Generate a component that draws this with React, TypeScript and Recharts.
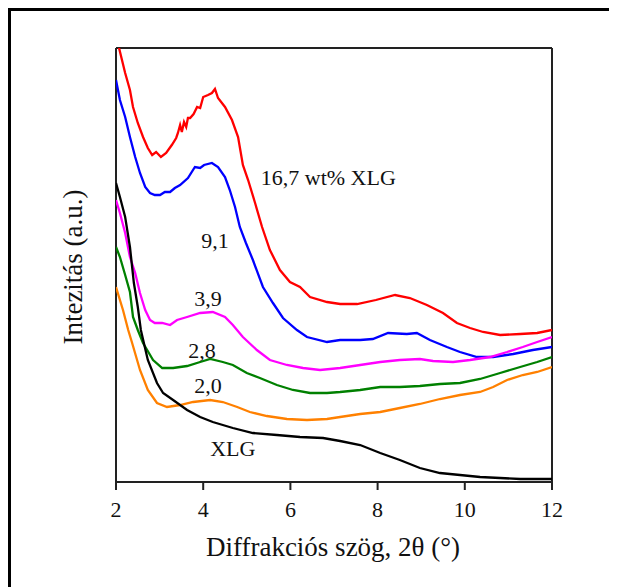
import React from "react";
import {
  LineChart,
  Line,
  XAxis,
  YAxis,
  ReferenceDot,
  ReferenceLine,
} from "recharts";

// 2θ (°) / intenzitás (a.u.) pontok
const red = [
  [2.0, 452], [2.07, 434], [2.21, 409], [2.32, 392], [2.39, 375], [2.5, 359],
  [2.62, 345], [2.73, 334], [2.83, 327], [2.92, 330], [3.03, 325], [3.15, 329],
  [3.28, 337], [3.38, 344], [3.42, 349], [3.47, 357], [3.51, 350], [3.56, 360],
  [3.61, 355], [3.65, 364], [3.7, 364], [3.78, 368], [3.86, 375], [3.93, 374],
  [4.0, 385], [4.11, 387], [4.2, 389], [4.27, 393], [4.34, 384],
  [4.5, 375], [4.66, 362], [4.8, 345], [4.91, 317], [5.03, 302], [5.19, 279],
  [5.35, 255], [5.53, 232], [5.76, 212], [5.99, 200], [6.22, 195], [6.45, 185],
  [6.84, 180], [7.14, 178], [7.53, 178], [7.96, 182], [8.4, 187], [8.74, 184],
  [9.13, 177], [9.5, 169], [9.82, 159], [10.12, 154], [10.42, 150], [10.81, 147],
  [11.27, 148], [11.66, 149], [12.0, 152],
];
const blue = [
  [2.0, 402], [2.09, 382], [2.21, 365], [2.32, 345], [2.44, 325], [2.55, 309],
  [2.67, 295], [2.78, 289], [2.89, 287], [3.01, 287], [3.12, 290], [3.24, 290],
  [3.35, 294], [3.47, 297], [3.65, 304], [3.81, 315], [3.93, 314], [4.02, 317],
  [4.2, 319], [4.34, 315], [4.5, 305], [4.61, 292], [4.73, 275], [4.84, 255],
  [4.98, 239], [5.14, 222], [5.37, 195], [5.6, 179], [5.83, 164], [6.15, 152],
  [6.38, 145], [6.84, 140], [7.14, 142], [7.6, 142], [7.89, 143], [8.24, 149],
  [8.67, 148], [8.9, 149], [9.2, 142], [9.59, 135], [9.89, 130], [10.28, 125],
  [10.65, 125], [11.11, 128], [11.56, 132], [12.0, 135],
];
const magenta = [
  [2.0, 282], [2.09, 269], [2.21, 249], [2.32, 225], [2.44, 209], [2.55, 189],
  [2.67, 172], [2.78, 162], [2.89, 159], [3.06, 159], [3.24, 157], [3.4, 162],
  [3.63, 165], [3.93, 169], [4.22, 170], [4.5, 165], [4.68, 157], [4.91, 145],
  [5.23, 132], [5.53, 122], [5.92, 117], [6.29, 114], [6.68, 112], [7.14, 114],
  [7.6, 117], [8.06, 120], [8.51, 122], [8.97, 123], [9.27, 121], [9.73, 120],
  [10.12, 122], [10.58, 125], [10.97, 130], [11.33, 135], [11.66, 140], [12.0, 145],
];
const green = [
  [2.0, 235], [2.09, 225], [2.21, 207], [2.32, 190], [2.39, 165], [2.5, 152],
  [2.62, 139], [2.85, 122], [3.06, 114], [3.31, 114], [3.63, 116], [3.93, 120],
  [4.16, 123], [4.45, 120], [4.68, 117], [5.0, 109], [5.3, 104], [5.69, 97],
  [6.06, 92], [6.45, 89], [6.84, 89], [7.14, 90], [7.6, 92], [8.06, 95],
  [8.51, 95], [8.97, 96], [9.43, 98], [9.89, 99], [10.35, 103], [10.81, 109],
  [11.27, 115], [11.66, 120], [12.0, 125],
];
const orange = [
  [2.0, 195], [2.09, 182], [2.16, 172], [2.28, 152], [2.37, 139], [2.55, 112],
  [2.73, 92], [2.94, 79], [3.17, 75], [3.47, 77], [3.77, 80], [4.16, 82],
  [4.45, 80], [4.78, 75], [5.07, 70], [5.46, 66], [5.92, 63], [6.38, 62],
  [6.84, 63], [7.14, 65], [7.6, 68], [8.06, 70], [8.51, 74], [8.97, 78],
  [9.43, 83], [9.89, 87], [10.35, 90], [10.65, 95], [10.97, 102], [11.33, 107],
  [11.66, 110], [12.0, 115],
];
const black = [
  [2.0, 299], [2.09, 285], [2.21, 265], [2.32, 235], [2.41, 199], [2.5, 175],
  [2.57, 152], [2.73, 122], [2.94, 99], [3.08, 89], [3.31, 82], [3.63, 72],
  [3.93, 65], [4.22, 60], [4.68, 54], [5.14, 49], [5.69, 47], [6.22, 45],
  [6.75, 44], [7.14, 41], [7.6, 37], [8.06, 29], [8.51, 22], [8.97, 14],
  [9.43, 9], [9.89, 7], [10.35, 5], [10.81, 4], [11.27, 3], [12.0, 3],
];

const xTicks = [2, 4, 6, 8, 10, 12];
const xDomain = [2, 12];
const yDomain = [0, 434];

const series = [
  { name: "16,7", color: "#ff0000", points: red },
  { name: "9,1", color: "#0000ff", points: blue },
  { name: "3,9", color: "#ff00ff", points: magenta },
  { name: "2,8", color: "#008000", points: green },
  { name: "2,0", color: "#ff8000", points: orange },
  { name: "XLG", color: "#000000", points: black },
];

// görbefeliratok (középpont adatkoordinátákban)
const curveLabels = [
  { x: 6.87, y: 305, text: "16,7 wt% XLG" },
  { x: 4.27, y: 242, text: "9,1" },
  { x: 4.11, y: 184, text: "3,9" },
  { x: 3.97, y: 132, text: "2,8" },
  { x: 4.11, y: 97, text: "2,0" },
  { x: 4.68, y: 34, text: "XLG" },
];

const serif = "'Liberation Serif', 'Times New Roman', serif";
const frame = "#222";

export default function App() {
  return (
    <div style={{ position: "relative", marginLeft: -8, marginTop: -8, width: 617, height: 587, background: "#fff" }}>
      <div style={{ position: "absolute", left: 0, top: 0 }}>
        <LineChart
          width={617}
          height={587}
          margin={{ top: 48, right: 65, left: 116, bottom: 75 }}
        >
          <XAxis
            type="number"
            dataKey="x"
            domain={xDomain}
            ticks={xTicks}
            allowDataOverflow
            height={30}
            tickSize={8}
            tickMargin={11}
            tick={{ fontSize: 22, fill: "#111", fontFamily: serif }}
            axisLine={{ stroke: frame, strokeWidth: 2 }}
            tickLine={{ stroke: frame, strokeWidth: 2 }}
          />
          <YAxis type="number" domain={yDomain} allowDataOverflow hide />
          <ReferenceLine x={2} stroke={frame} strokeWidth={2} ifOverflow="visible" />
          <ReferenceLine x={12} stroke={frame} strokeWidth={2} ifOverflow="visible" />
          <ReferenceLine y={434} stroke={frame} strokeWidth={2} ifOverflow="visible" />
          {series.map((s) => (
            <Line
              key={s.name}
              data={s.points.map(([x, y]) => ({ x, y }))}
              dataKey="y"
              type="linear"
              stroke={s.color}
              strokeWidth={2.3}
              dot={false}
              isAnimationActive={false}
            />
          ))}
          {curveLabels.map((l) => (
            <ReferenceDot
              key={l.text}
              x={l.x}
              y={l.y}
              r={0}
              stroke="none"
              label={{ value: l.text, position: "center", fontSize: 22, fill: "#111", fontFamily: serif }}
            />
          ))}
        </LineChart>
      </div>
      <svg width={617} height={587} style={{ position: "absolute", left: 0, top: 0, pointerEvents: "none" }}>
        {/* külső keret: csak felül és balra látszik (a 8px alatti sáv nem látszik) */}
        <rect x={8} y={8} width={609} height={3} fill="#000" />
        <rect x={8} y={8} width={3} height={579} fill="#000" />
        <text x={333} y={556} textAnchor="middle" fontSize={27} fontFamily={serif} fill="#111">
          Diffrakciós szög, 2θ (°)
        </text>
        <text
          x={82}
          y={267}
          textAnchor="middle"
          fontSize={27}
          fontFamily={serif}
          fill="#111"
          transform="rotate(-90 82 267)"
        >
          Intezitás (a.u.)
        </text>
      </svg>
    </div>
  );
}
